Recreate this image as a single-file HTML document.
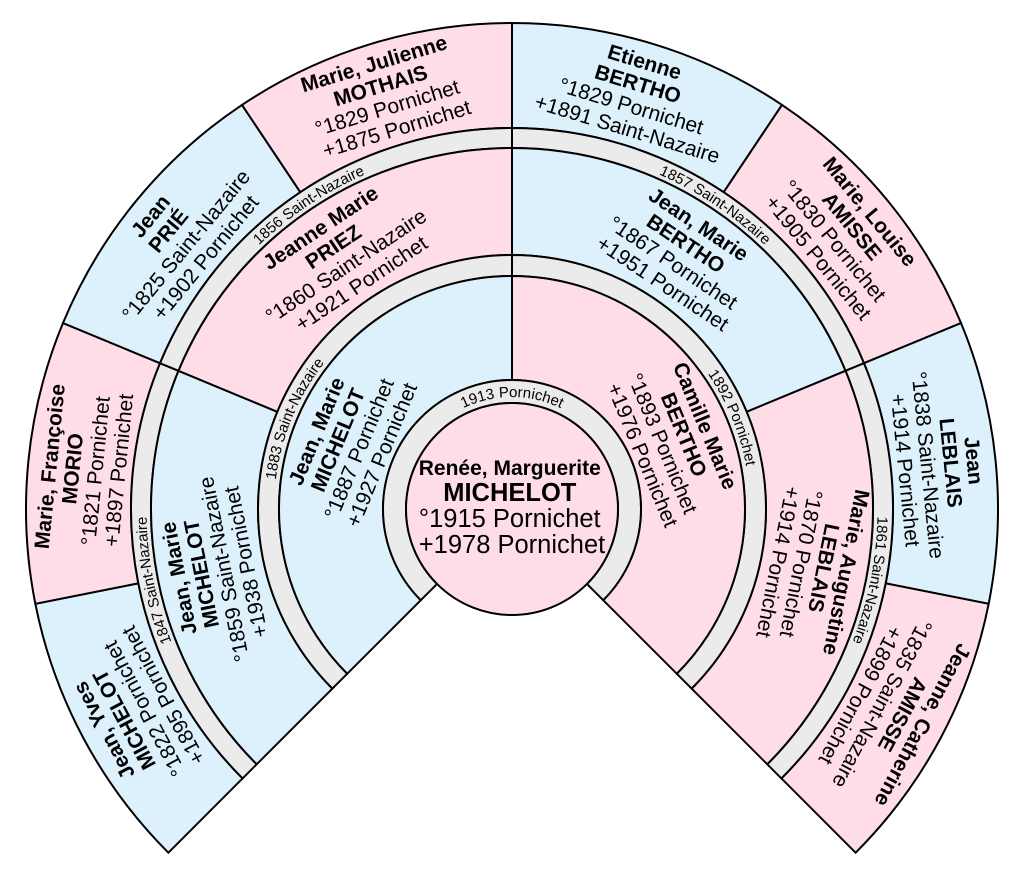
<!DOCTYPE html>
<html>
<head>
<meta charset="utf-8">
<style>
html,body{margin:0;padding:0;background:#fff;width:1024px;height:874px;overflow:hidden}
svg{display:block;overflow:hidden}
text{font-family:"Liberation Sans",Arial,sans-serif;fill:#000}
</style>
</head>
<body>
<svg width="1024" height="874" viewBox="0 0 1024 874" xmlns="http://www.w3.org/2000/svg">
<defs>
<path id="a1" d="M -112 0 A 112 112 0 0 1 112 0"/>
<path id="a2" d="M -206.11 -119 A 238 238 0 0 1 206.11 -119"/>
<path id="a3" d="M -182.75 -316.54 A 365.5 365.5 0 0 1 182.75 -316.54"/>
</defs>
<g transform="translate(512,509)">
  <g stroke="#000" stroke-width="2" stroke-linejoin="miter">
    <!-- gen3 -->
    <path fill="#ddf1fd" d="M -343.65 343.65 A 486 486 0 0 1 -476.66 94.81 L -373.68 74.33 A 381 381 0 0 0 -269.41 269.41 Z"/>
    <path fill="#ffdde6" d="M -476.66 94.81 A 486 486 0 0 1 -449.01 -185.98 L -352.00 -145.80 A 381 381 0 0 0 -373.68 74.33 Z"/>
    <path fill="#ddf1fd" d="M -449.01 -185.98 A 486 486 0 0 1 -270.01 -404.09 L -211.67 -316.79 A 381 381 0 0 0 -352.00 -145.80 Z"/>
    <path fill="#ffdde6" d="M -270.01 -404.09 A 486 486 0 0 1 0 -486 L 0 -381 A 381 381 0 0 0 -211.67 -316.79 Z"/>
    <path fill="#ddf1fd" d="M 0 -486 A 486 486 0 0 1 270.01 -404.09 L 211.67 -316.79 A 381 381 0 0 0 0 -381 Z"/>
    <path fill="#ffdde6" d="M 270.01 -404.09 A 486 486 0 0 1 449.01 -185.98 L 352.00 -145.80 A 381 381 0 0 0 211.67 -316.79 Z"/>
    <path fill="#ddf1fd" d="M 449.01 -185.98 A 486 486 0 0 1 476.66 94.81 L 373.68 74.33 A 381 381 0 0 0 352.00 -145.80 Z"/>
    <path fill="#ffdde6" d="M 476.66 94.81 A 486 486 0 0 1 343.65 343.65 L 269.41 269.41 A 381 381 0 0 0 373.68 74.33 Z"/>
    <!-- band 3 -->
    <path fill="#ebebeb" d="M -269.41 269.41 A 381 381 0 0 1 -352.00 -145.80 L -333.52 -138.15 A 361 361 0 0 0 -255.27 255.27 Z"/>
    <path fill="#ebebeb" d="M -352.00 -145.80 A 381 381 0 0 1 0 -381 L 0 -361 A 361 361 0 0 0 -333.52 -138.15 Z"/>
    <path fill="#ebebeb" d="M 0 -381 A 381 381 0 0 1 352.00 -145.80 L 333.52 -138.15 A 361 361 0 0 0 0 -361 Z"/>
    <path fill="#ebebeb" d="M 352.00 -145.80 A 381 381 0 0 1 269.41 269.41 L 255.27 255.27 A 361 361 0 0 0 333.52 -138.15 Z"/>
    <!-- gen2 -->
    <path fill="#ddf1fd" d="M -255.27 255.27 A 361 361 0 0 1 -333.52 -138.15 L -234.67 -97.20 A 254 254 0 0 0 -179.61 179.61 Z"/>
    <path fill="#ffdde6" d="M -333.52 -138.15 A 361 361 0 0 1 0 -361 L 0 -254 A 254 254 0 0 0 -234.67 -97.20 Z"/>
    <path fill="#ddf1fd" d="M 0 -361 A 361 361 0 0 1 333.52 -138.15 L 234.67 -97.20 A 254 254 0 0 0 0 -254 Z"/>
    <path fill="#ffdde6" d="M 333.52 -138.15 A 361 361 0 0 1 255.27 255.27 L 179.61 179.61 A 254 254 0 0 0 234.67 -97.20 Z"/>
    <!-- band 2 -->
    <path fill="#ebebeb" d="M -179.61 179.61 A 254 254 0 0 1 0 -254 L 0 -233 A 233 233 0 0 0 -164.76 164.76 Z"/>
    <path fill="#ebebeb" d="M 0 -254 A 254 254 0 0 1 179.61 179.61 L 164.76 164.76 A 233 233 0 0 0 0 -233 Z"/>
    <!-- gen1 -->
    <path fill="#ddf1fd" d="M -164.76 164.76 A 233 233 0 0 1 0 -233 L 0 -129 A 129 129 0 0 0 -91.22 91.22 Z"/>
    <path fill="#ffdde6" d="M 0 -233 A 233 233 0 0 1 164.76 164.76 L 91.22 91.22 A 129 129 0 0 0 0 -129 Z"/>
    <!-- band 1 -->
    <path fill="#ebebeb" d="M -91.22 91.22 A 129 129 0 1 1 91.22 91.22 L 74.95 74.95 A 106 106 0 1 0 -74.95 74.95 Z"/>
    <!-- center -->
    <circle r="106" fill="#ffdde6"/>
  </g>

  <!-- band labels -->
  <g font-size="15">
    <text text-anchor="middle"><textPath href="#a1" startOffset="50%">1913 Pornichet</textPath></text>
    <text text-anchor="middle" transform="rotate(-67.5)"><textPath href="#a2" startOffset="50%">1883 Saint-Nazaire</textPath></text>
    <text text-anchor="middle" transform="rotate(67.5)"><textPath href="#a2" startOffset="50%">1892 Pornichet</textPath></text>
    <text text-anchor="middle" transform="rotate(-101.25)"><textPath href="#a3" startOffset="50%">1847 Saint-Nazaire</textPath></text>
    <text text-anchor="middle" transform="rotate(-33.75)"><textPath href="#a3" startOffset="50%">1856 Saint-Nazaire</textPath></text>
    <text text-anchor="middle" transform="rotate(33.75)"><textPath href="#a3" startOffset="50%">1857 Saint-Nazaire</textPath></text>
    <text text-anchor="middle" transform="rotate(101.25)"><textPath href="#a3" startOffset="50%">1861 Saint-Nazaire</textPath></text>
  </g>

  <!-- center text -->
  <text text-anchor="middle">
    <tspan x="0" y="-34" font-size="21" font-weight="bold">Renée, Marguerite</tspan>
    <tspan x="0" y="-8" font-size="25.5" font-weight="bold">MICHELOT</tspan>
    <tspan x="0" y="18" font-size="25.5">°1915 Pornichet</tspan>
    <tspan x="0" y="44" font-size="25.5">+1978 Pornichet</tspan>
  </text>

  <g font-size="21" text-anchor="middle">
    <!-- gen1 -->
    <text transform="rotate(-67.5) translate(0,-176)">
      <tspan x="0" y="-27.15" font-weight="bold">Jean, Marie</tspan>
      <tspan x="0" y="-4.15" font-weight="bold">MICHELOT</tspan>
      <tspan x="0" y="18.85">°1887 Pornichet</tspan>
      <tspan x="0" y="41.85">+1927 Pornichet</tspan>
    </text>
    <text transform="rotate(67.5) translate(0,-176)">
      <tspan x="0" y="-27.15" font-weight="bold">Camille Marie</tspan>
      <tspan x="0" y="-4.15" font-weight="bold">BERTHO</tspan>
      <tspan x="0" y="18.85">°1893 Pornichet</tspan>
      <tspan x="0" y="41.85">+1976 Pornichet</tspan>
    </text>

    <!-- gen2 -->
    <text transform="rotate(-101.25) translate(0,-306)">
      <tspan x="0" y="-27.15" font-weight="bold">Jean, Marie</tspan>
      <tspan x="0" y="-4.15" font-weight="bold">MICHELOT</tspan>
      <tspan x="0" y="18.85">°1859 Saint-Nazaire</tspan>
      <tspan x="0" y="41.85">+1938 Pornichet</tspan>
    </text>
    <text transform="rotate(-33.75) translate(0,-306)">
      <tspan x="0" y="-27.15" font-weight="bold">Jeanne Marie</tspan>
      <tspan x="0" y="-4.15" font-weight="bold">PRIEZ</tspan>
      <tspan x="0" y="18.85">°1860 Saint-Nazaire</tspan>
      <tspan x="0" y="41.85">+1921 Pornichet</tspan>
    </text>
    <text transform="rotate(33.75) translate(0,-306)">
      <tspan x="0" y="-27.15" font-weight="bold">Jean, Marie</tspan>
      <tspan x="0" y="-4.15" font-weight="bold">BERTHO</tspan>
      <tspan x="0" y="18.85">°1867 Pornichet</tspan>
      <tspan x="0" y="41.85">+1951 Pornichet</tspan>
    </text>
    <text transform="rotate(101.25) translate(0,-306)">
      <tspan x="0" y="-27.15" font-weight="bold">Marie, Augustine</tspan>
      <tspan x="0" y="-4.15" font-weight="bold">LEBLAIS</tspan>
      <tspan x="0" y="18.85">°1870 Pornichet</tspan>
      <tspan x="0" y="41.85">+1914 Pornichet</tspan>
    </text>

    <!-- gen3 -->
    <text transform="rotate(-118.125) translate(0,-430)">
      <tspan x="0" y="-27.15" font-weight="bold">Jean, Yves</tspan>
      <tspan x="0" y="-4.15" font-weight="bold">MICHELOT</tspan>
      <tspan x="0" y="18.85">°1822 Pornichet</tspan>
      <tspan x="0" y="41.85">+1895 Pornichet</tspan>
    </text>
    <text transform="rotate(-84.375) translate(0,-430)">
      <tspan x="0" y="-27.15" font-weight="bold">Marie, Françoise</tspan>
      <tspan x="0" y="-4.15" font-weight="bold">MORIO</tspan>
      <tspan x="0" y="18.85">°1821 Pornichet</tspan>
      <tspan x="0" y="41.85">+1897 Pornichet</tspan>
    </text>
    <text transform="rotate(-50.625) translate(0,-431)">
      <tspan x="0" y="-27.15" font-weight="bold">Jean</tspan>
      <tspan x="0" y="-4.15" font-weight="bold">PRIÉ</tspan>
      <tspan x="0" y="18.85">°1825 Saint-Nazaire</tspan>
      <tspan x="0" y="41.85">+1902 Pornichet</tspan>
    </text>
    <text transform="rotate(-16.875) translate(0,-432)">
      <tspan x="0" y="-27.15" font-weight="bold">Marie, Julienne</tspan>
      <tspan x="0" y="-4.15" font-weight="bold">MOTHAIS</tspan>
      <tspan x="0" y="18.85">°1829 Pornichet</tspan>
      <tspan x="0" y="41.85">+1875 Pornichet</tspan>
    </text>
    <text transform="rotate(16.875) translate(0,-432)">
      <tspan x="0" y="-27.15" font-weight="bold">Etienne</tspan>
      <tspan x="0" y="-4.15" font-weight="bold">BERTHO</tspan>
      <tspan x="0" y="18.85">°1829 Pornichet</tspan>
      <tspan x="0" y="41.85">+1891 Saint-Nazaire</tspan>
    </text>
    <text transform="rotate(50.625) translate(0,-431)">
      <tspan x="0" y="-27.15" font-weight="bold">Marie, Louise</tspan>
      <tspan x="0" y="-4.15" font-weight="bold">AMISSE</tspan>
      <tspan x="0" y="18.85">°1830 Pornichet</tspan>
      <tspan x="0" y="41.85">+1905 Pornichet</tspan>
    </text>
    <text transform="rotate(84.375) translate(0,-430)">
      <tspan x="0" y="-27.15" font-weight="bold">Jean</tspan>
      <tspan x="0" y="-4.15" font-weight="bold">LEBLAIS</tspan>
      <tspan x="0" y="18.85">°1838 Saint-Nazaire</tspan>
      <tspan x="0" y="41.85">+1914 Pornichet</tspan>
    </text>
    <text transform="rotate(118.125) translate(0,-430)">
      <tspan x="0" y="-27.15" font-weight="bold">Jeanne, Catherine</tspan>
      <tspan x="0" y="-4.15" font-weight="bold">AMISSE</tspan>
      <tspan x="0" y="18.85">°1835 Saint-Nazaire</tspan>
      <tspan x="0" y="41.85">+1899 Pornichet</tspan>
    </text>
  </g>
</g>
</svg>
</body>
</html>
